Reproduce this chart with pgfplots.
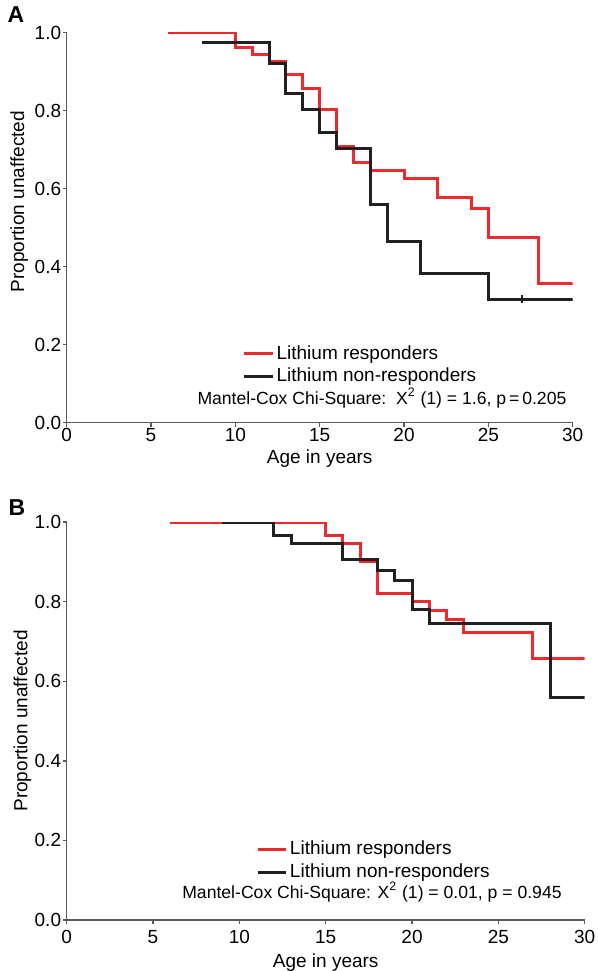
\documentclass[border=0pt]{standalone}
\usepackage{fontspec}
\setmainfont{Liberation Sans}
\usepackage{pgfplots}
\pgfplotsset{compat=1.18}

\definecolor{resp}{HTML}{EE2A2F}
\definecolor{nonresp}{HTML}{231F20}
\definecolor{axgray}{HTML}{5A5A5A}

\newcommand{\fs}{\fontsize{9.5}{11}\selectfont}
\newcommand{\fsm}{\fontsize{8.8}{10}\selectfont}

% shared look of both Kaplan-Meier panels
\pgfplotsset{km/.style={
    scale only axis,
    xmin=0, xmax=30, ymin=0, ymax=1,
    axis x line*=bottom, axis y line*=left,
    axis line style={axgray, line width=0.7pt},
    tick style={axgray, line width=0.7pt},
    tick align=outside, major tick length=2pt,
    xtick={0,5,10,15,20,25,30},
    ytick={0,0.2,0.4,0.6,0.8,1.0},
    yticklabel style={/pgf/number format/.cd, fixed, fixed zerofill, precision=1},
    /pgf/number format/assume math mode=true,
    tick label style={font=\fs, inner sep=0.6pt},
    label style={font=\fs},
    xlabel={Age in years},
    ylabel={Proportion unaffected},
    legend cell align=left,
    legend style={draw=none, fill=none, font=\fs, anchor=north west,
      row sep=1pt, nodes={inner sep=1pt}},
    every axis plot/.append style={line width=1.5pt, const plot},
}}

\begin{document}
\begin{tikzpicture}
\useasboundingbox (0,0) rectangle (299pt,485.5pt);

% panel A
\begin{axis}[km, at={(33.35pt,274.15pt)}, anchor=south west,
    width=253pt, height=195pt,
    xlabel style={yshift=0pt},
    ylabel style={xshift=13pt, yshift=-0.8pt},
    legend style={at={(axis cs:10.05,0.215)}},
    legend image code/.code={\draw[#1] (0pt,0pt) -- (14.5pt,0pt);}]
\addplot[resp] coordinates {
  (6,1.0) (10,0.961) (11,0.945) (12,0.926) (13,0.894) (14,0.858)
  (15,0.802) (16,0.707) (17,0.666) (18,0.647) (20,0.625) (22,0.578)
  (24,0.548) (25,0.476) (28,0.356) (30,0.356)};
\addplot[nonresp] coordinates {
  (8,0.976) (12,0.922) (13,0.843) (14,0.804) (15,0.744) (16,0.702)
  (18,0.559) (19,0.464) (21,0.382) (25,0.317) (30,0.317)};
\legend{Lithium responders, Lithium non-responders}
\addplot[nonresp, line width=0.8pt, only marks, mark=|, mark size=2pt,
  forget plot] coordinates {(27,0.317)};
\node[font=\fsm] at (axis cs:18.69,0.063)
  {Mantel-Cox Chi-Square:\ \ X\textsuperscript{2} (1) = 1.6, p\,=\,0.205};
\end{axis}

% panel B
\begin{axis}[km, at={(33.35pt,25.5pt)}, anchor=south west,
    width=259pt, height=199pt,
    xticklabel style={yshift=-2.5pt},
    xlabel style={yshift=-0.5pt},
    ylabel style={yshift=-2.5pt},
    legend style={at={(axis cs:10.65,0.214)}},
    legend image code/.code={\path (0pt,0pt) -- (14pt,0pt);
      \draw[#1] (0pt,0pt) -- (12.5pt,0pt);}]
\addplot[resp] coordinates {
  (6,1.0) (15,0.967) (16,0.946) (17,0.902) (18,0.821) (20,0.800)
  (21,0.777) (22,0.754) (23,0.722) (27,0.658) (30,0.658)};
\addplot[nonresp] coordinates {
  (9,1.0) (12,0.966) (13,0.946) (16,0.905) (18,0.879) (19,0.852)
  (20,0.781) (21,0.744) (28,0.559) (30,0.559)};
\legend{Lithium responders, Lithium non-responders}
\node[font=\fsm] at (axis cs:17.68,0.070)
  {Mantel-Cox Chi-Square: X\textsuperscript{2} (1) = 0.01, p = 0.945};
\end{axis}

\node[font=\bfseries\fontsize{11.5}{13}\selectfont] at (8pt,478pt) {A};
\node[font=\bfseries\fontsize{11.5}{13}\selectfont] at (8.5pt,231.5pt) {B};
\end{tikzpicture}
\end{document}
